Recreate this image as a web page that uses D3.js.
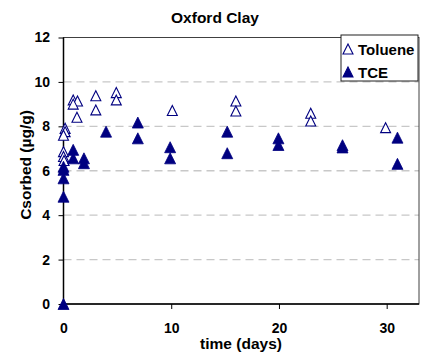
<!DOCTYPE html>
<html><head><meta charset="utf-8">
<script src="https://cdn.jsdelivr.net/npm/d3@7"></script>
<style>body{margin:0;background:#fff}text{font-family:"Liberation Sans",Arial,sans-serif;font-weight:bold}</style>
</head><body><svg id="c" width="422" height="358"></svg>
<script>
const tolueneX = [0, 0.15, 0.15, 0, 0, 0.05, 0.9, 1.3, 0.9, 1.25, 3, 3, 4.9, 4.9, 10.1, 16, 16, 22.95, 22.95, 29.9];
const tolueneY = [6.86, 7.91, 7.76, 7.6, 6.64, 6.46, 9.19, 9.14, 9.0, 8.41, 9.38, 8.74, 9.52, 9.19, 8.71, 9.14, 8.69, 8.59, 8.24, 7.94];
const tceX = [0, 0, 0, 0, 0, 0.9, 0.9, 1.9, 1.9, 3.95, 6.9, 6.9, 9.9, 9.9, 15.2, 15.2, 19.95, 19.95, 25.9, 25.9, 31, 31];
const tceY = [0, 4.83, 5.66, 6.04, 6.18, 6.94, 6.56, 6.56, 6.34, 7.76, 8.17, 7.46, 7.06, 6.56, 7.76, 6.79, 7.46, 7.16, 7.15, 7.05, 7.49, 6.31];
const xTicks = [0, 10, 20, 30];
const yTicks = [0, 2, 4, 6, 8, 10, 12];
const title = "Oxford Clay";
const xTitle = "time (days)";
const yTitle = "Csorbed (µg/g)";
const seriesNames = ["Toluene", "TCE"];

const svg = d3.select("#c");
const L = 63.5, R = 419, T = 37.5, B = 304;
const x = d3.scaleLinear().domain([0, 33]).range([L, R]);
const y = d3.scaleLinear().domain([0, 12]).range([B, T]);
const navy = "#000080";

// gridlines
svg.append("g").selectAll("line").data(yTicks.filter(v => v > 0 && v < 12)).join("line")
  .attr("x1", L).attr("x2", R).attr("y1", d => y(d)).attr("y2", d => y(d))
  .attr("stroke", "#c8c8c8").attr("stroke-width", 1.3).attr("stroke-dasharray", "8,5");
// frame
svg.append("rect").attr("x", L).attr("y", T).attr("width", R - L).attr("height", B - T)
  .attr("fill", "none").attr("stroke", "#404040").attr("stroke-width", 1);

const yAxis = svg.append("g").attr("transform", `translate(${L},0)`)
  .call(d3.axisLeft(y).tickValues(yTicks).tickSize(5).tickPadding(8.5).tickFormat(d3.format("d")));
const xAxis = svg.append("g").attr("transform", `translate(0,${B})`)
  .call(d3.axisBottom(x).tickValues(xTicks).tickSize(5).tickPadding(10).tickFormat(d3.format("d")));
[yAxis, xAxis].forEach(a => {
  a.select(".domain").attr("stroke", "#000").attr("stroke-width", 1.5);
  a.selectAll(".tick line").attr("stroke", "#000");
  a.selectAll("text").attr("font-size", 14).attr("font-family", "Liberation Sans, Arial, sans-serif").attr("font-weight", "bold").attr("fill", "#000");
});
xAxis.selectAll(".tick text").attr("dy", null).attr("y", 28.5);
xAxis.select(".domain").attr("d", `M${L},0H${R}`);
yAxis.select(".domain").attr("d", `M0,${B}V${T}`);

const tri = (w, h) => `M0,${-h/2}L${w/2},${h/2}L${-w/2},${h/2}Z`;
const tolData = tolueneX.map((d, i) => [d, tolueneY[i]]);
const tceData = tceX.map((d, i) => [d, tceY[i]]);

svg.append("g").selectAll("path").data(tolData).join("path")
  .attr("d", tri(10, 10)).attr("transform", d => `translate(${x(d[0])},${y(d[1])})`)
  .attr("fill", "#fff").attr("stroke", navy).attr("stroke-width", 1.1);
svg.append("g").selectAll("path").data(tceData).join("path")
  .attr("d", tri(11, 11)).attr("transform", d => `translate(${x(d[0])},${y(d[1])})`)
  .attr("fill", navy).attr("stroke", navy).attr("stroke-width", 0.8);

// titles
svg.append("text").attr("x", 215).attr("y", 23).attr("text-anchor", "middle").attr("font-size", 15.5).text(title);
svg.append("text").attr("x", 241).attr("y", 349).attr("text-anchor", "middle").attr("font-size", 15.5).text(xTitle);
svg.append("text").attr("transform", "translate(31,165) rotate(-90)").attr("text-anchor", "middle").attr("font-size", 15.5).text(yTitle);

// legend
const lg = svg.append("g");
lg.append("rect").attr("x", 341).attr("y", 35).attr("width", 77).attr("height", 46)
  .attr("fill", "#fff").attr("stroke", "#202020").attr("stroke-width", 1);
const legItems = [{name: seriesNames[0], fill: "#fff", yy: 49}, {name: seriesNames[1], fill: navy, yy: 72}];
legItems.forEach(it => {
  lg.append("path").attr("d", tri(10, 10)).attr("transform", `translate(348,${it.yy})`)
    .attr("fill", it.fill).attr("stroke", navy).attr("stroke-width", 1.1);
  lg.append("text").attr("x", 358).attr("y", it.yy + 5.5).attr("font-size", 15).text(it.name);
});
</script></body></html>
